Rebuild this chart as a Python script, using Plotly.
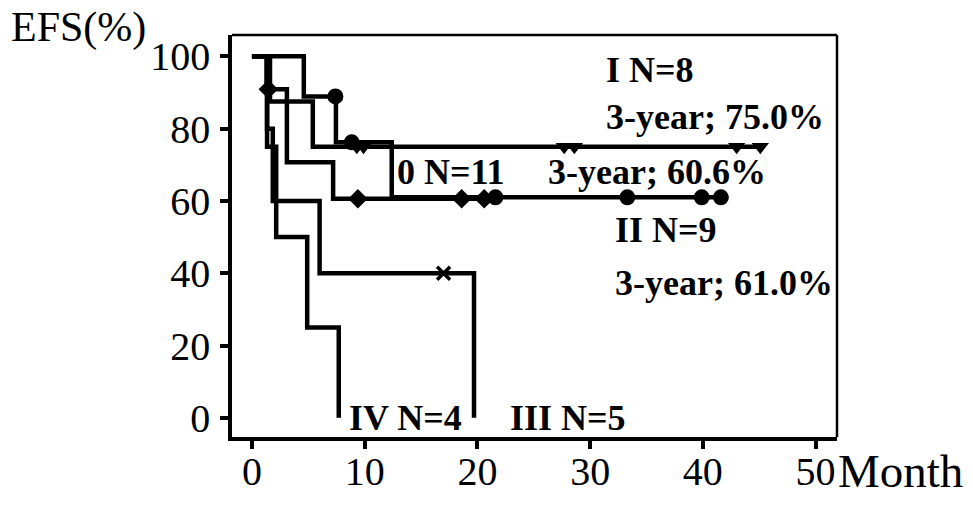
import plotly.graph_objects as go

# Kaplan-Meier event-free survival by stage
# Each group: step times (months) and survival (%) after each step, then censor marks.
stage0_t = [0, 1.3, 3.1, 7.2, 20.8]
stage0_s = [100, 90.9, 70.7, 60.6, 60.6]
stage0_cens_t = [1.45, 9.4, 18.6, 20.6]
stage0_cens_s = [90.9, 60.6, 60.6, 60.6]

stage1_t = [0, 1.6, 5.4, 45.1]
stage1_s = [100, 87.5, 75.0, 75.0]
stage1_cens_t = [9.3, 9.9, 27.7, 28.6, 43.0, 45.1]
stage1_cens_s = [75.0, 75.0, 75.0, 75.0, 75.0, 75.0]

stage2_t = [0, 4.6, 7.45, 12.4, 41.6]
stage2_s = [100, 88.9, 76.2, 61.0, 61.0]
stage2_cens_t = [7.4, 8.85, 21.6, 33.3, 39.9, 41.6]
stage2_cens_s = [88.9, 76.2, 61.0, 61.0, 61.0, 61.0]

stage3_t = [0, 1.34, 1.85, 6.0, 19.7]
stage3_s = [100, 80.0, 60.0, 40.0, 0.0]
stage3_cens_t = [17.0]
stage3_cens_s = [40.0]

stage4_t = [0, 1.34, 2.15, 4.9, 7.7]
stage4_s = [100, 75.0, 50.0, 25.0, 0.0]

x_ticks = [0, 10, 20, 30, 40, 50]
y_ticks = [0, 20, 40, 60, 80, 100]

group_labels = [
    ("I N=8", 31.2, 96.2),
    ("3-year; 75.0%", 31.2, 83.2),
    ("0 N=11", 12.7, 68.1),
    ("3-year; 60.6%", 26.1, 68.1),
    ("II N=9", 32.0, 52.0),
    ("3-year; 61.0%", 32.0, 37.3),
    ("IV N=4", 8.4, 0.0),
    ("III N=5", 22.7, 0.0),
]

SERIF = "Liberation Serif, Times New Roman, serif"
LINE_W = 4.5

fig = go.Figure()

def step_curve(t, s):
    # A KM curve is a right-continuous step: extend each value until the next time
    xs, ys = [], []
    for i in range(len(t)):
        if i > 0:
            xs.append(t[i]); ys.append(s[i - 1])
        xs.append(t[i]); ys.append(s[i])
    return xs, ys

for t, s in [(stage0_t, stage0_s), (stage1_t, stage1_s), (stage2_t, stage2_s),
             (stage3_t, stage3_s), (stage4_t, stage4_s)]:
    xs, ys = step_curve(t, s)
    fig.add_trace(go.Scatter(x=xs, y=ys, mode="lines",
                             line=dict(color="black", width=LINE_W),
                             hoverinfo="skip", showlegend=False))

# Censoring marks
fig.add_trace(go.Scatter(x=stage0_cens_t, y=stage0_cens_s, mode="markers",
                         marker=dict(symbol="diamond", size=15, color="black"),
                         showlegend=False))
fig.add_trace(go.Scatter(x=stage1_cens_t, y=stage1_cens_s, mode="markers",
                         marker=dict(symbol="triangle-down", size=15, color="black"),
                         showlegend=False))
fig.add_trace(go.Scatter(x=stage2_cens_t, y=stage2_cens_s, mode="markers",
                         marker=dict(symbol="circle", size=16, color="black"),
                         showlegend=False))
fig.add_trace(go.Scatter(x=stage3_cens_t, y=stage3_cens_s, mode="markers",
                         marker=dict(symbol="x-thin", size=13, color="black",
                                     line=dict(color="black", width=3.5)),
                         showlegend=False))

for text, x, y in group_labels:
    fig.add_annotation(x=x, y=y, xref="x", yref="y", text=f"<b>{text}</b>",
                       showarrow=False, xanchor="left", yanchor="middle",
                       font=dict(family=SERIF, size=36, color="black"))

fig.add_annotation(x=-0.368, y=1.018, xref="paper", yref="paper", text="EFS(%)",
                   showarrow=False, xanchor="left", yanchor="middle",
                   font=dict(family=SERIF, size=42, color="black"))
fig.add_annotation(x=0.998, y=-0.085, xref="paper", yref="paper", text="Month",
                   showarrow=False, xanchor="left", yanchor="middle",
                   font=dict(family=SERIF, size=47, color="black"))

# Thin top and right frame edges
fig.add_shape(type="line", xref="paper", yref="paper", x0=0, x1=1, y0=1, y1=1,
              line=dict(color="black", width=2.5))
fig.add_shape(type="line", xref="paper", yref="paper", x0=1, x1=1, y0=0, y1=1,
              line=dict(color="black", width=2.5))

fig.update_xaxes(range=[-1.77, 51.9], tickvals=x_ticks, ticks="outside",
                 ticklen=8, tickwidth=3.5, tickcolor="black",
                 showline=True, linewidth=3.5, linecolor="black",
                 showgrid=False, zeroline=False, ticklabelstandoff=-12,
                 tickfont=dict(family=SERIF, size=40, color="black"))
fig.update_yaxes(range=[-5.3, 105.9], tickvals=y_ticks, ticks="outside",
                 ticklen=8, tickwidth=3.5, tickcolor="black",
                 showline=True, linewidth=3.5, linecolor="black",
                 showgrid=False, zeroline=False, ticklabelstandoff=2,
                 tickfont=dict(family=SERIF, size=40, color="black"))

fig.update_layout(width=973, height=513,
                  margin=dict(l=232, r=136, t=35, b=76),
                  paper_bgcolor="white", plot_bgcolor="white")

fig.write_html("out.html")
